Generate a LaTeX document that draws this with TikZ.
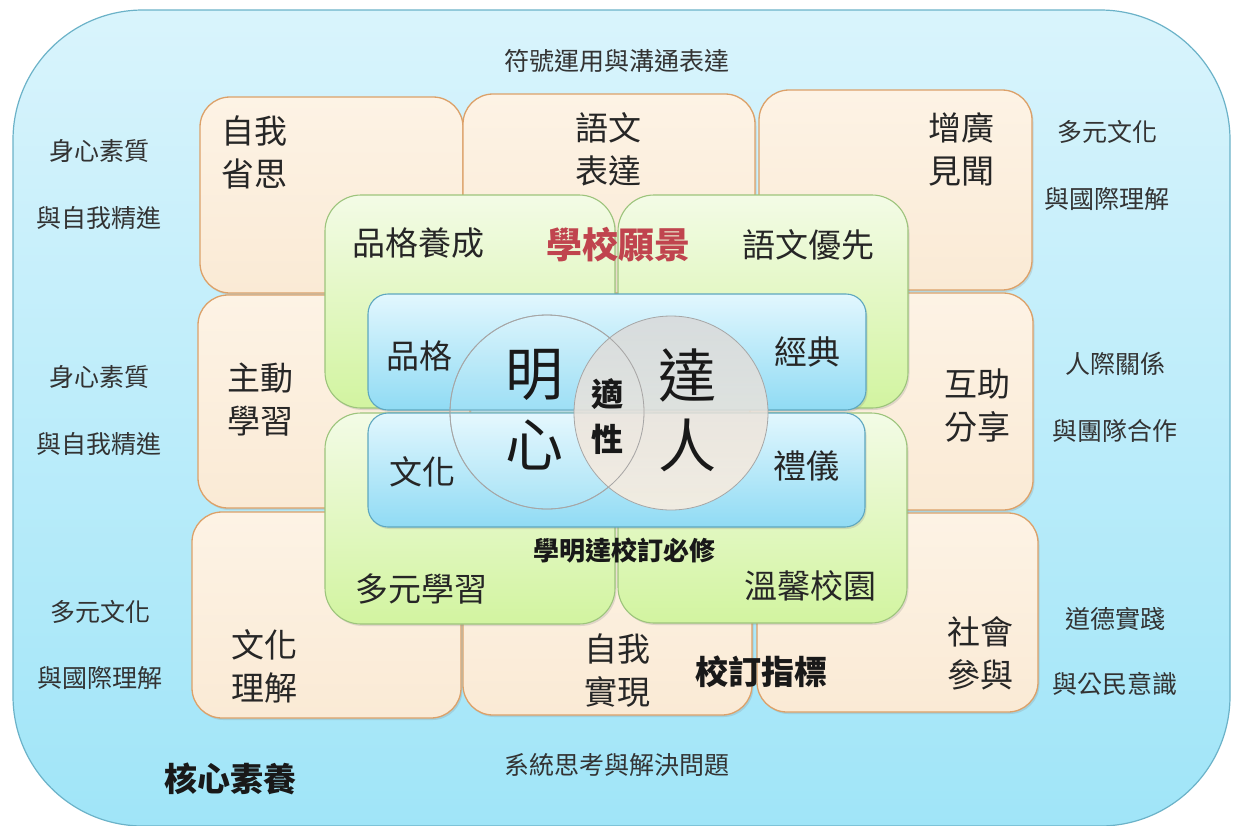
\documentclass[tikz,border=0pt]{standalone}
\usepackage{fontspec}
\setmainfont{Noto Sans CJK TC}
\usetikzlibrary{shadows}

\definecolor{skytop}{HTML}{D9F4FC}
\definecolor{skybot}{HTML}{A0E5F8}
\definecolor{skyline}{HTML}{6BB2C8}
\definecolor{tantop}{HTML}{FDF3E5}
\definecolor{tanbot}{HTML}{FAEAD5}
\definecolor{tanline}{HTML}{DCA169}
\definecolor{leaftop}{HTML}{F3FBE6}
\definecolor{leafbot}{HTML}{D2F4A0}
\definecolor{leafline}{HTML}{9DC47C}
\definecolor{poolTop}{HTML}{E2F7FE}
\definecolor{poolBot}{HTML}{90DBF4}
\definecolor{poolline}{HTML}{5EA7BF}
\definecolor{visionred}{HTML}{C0444E}

\begin{document}
\begin{tikzpicture}[x=1pt,y=-1pt,
  softshadow/.style={drop shadow={opacity=.22,shadow xshift=1.5pt,shadow yshift=-2pt}},
  outerbox/.style={draw=skyline,line width=1.2pt,rounded corners=130pt,top color=skytop,bottom color=skybot},
  tanbox/.style={draw=tanline,line width=1.3pt,rounded corners=30pt,top color=tantop,bottom color=tanbot,softshadow},
  leafbox/.style={draw=leafline,line width=1.1pt,rounded corners=36pt,top color=leaftop,bottom color=leafbot,softshadow},
  poolbox/.style={draw=poolline,line width=1.1pt,rounded corners=20pt,top color=poolTop,bottom color=poolBot,softshadow},
  venn/.style={draw=gray!70,line width=.8pt},
  lbl/.style={inner sep=0pt,text=black!80,font=\fontsize{25}{30}\selectfont},
  pair/.style={inner sep=0pt,align=left,text=black!85,font=\fontsize{33}{43}\selectfont},
  word/.style={inner sep=0pt,text=black!85,font=\fontsize{33}{40}\selectfont},
  big/.style={inner sep=0pt,text=black!90,font=\fontsize{58}{60}\selectfont},
  strong/.style={inner sep=0pt,text=black!90,font=\bfseries\fontsize{33}{40}\selectfont}]
\useasboundingbox (0,0) rectangle (1233,825);

% outer frame
\draw[outerbox] (13,10) rectangle (1230,826);

% tan grid
\foreach \xa/\ya/\xb/\yb in {200/97/463/293, 463/94/755/293, 759/90/1032/290,
  198/295/470/508, 750/293/1033/510,
  192/512/461/718, 463/510/752/715, 757/513/1038/712}
  \draw[tanbox] (\xa,\ya) rectangle (\xb,\yb);

% green quarters
\foreach \xa/\ya/\xb/\yb in {325/195/615/408, 618/195/908/408, 325/413/615/624, 618/413/907/623}
  \draw[leafbox] (\xa,\ya) rectangle (\xb,\yb);

% blue bands
\draw[poolbox] (368,294) rectangle (866,410);
\draw[poolbox] (368,413) rectangle (865,527);

% venn circles
\draw[venn,fill=white,fill opacity=.12] (547,412) circle[radius=97pt];
\path[top color=black!15!white,bottom color=orange!13!white,opacity=.85] (671,413) circle[radius=97pt];
\draw[venn] (671,413) circle[radius=97pt];
\draw[venn] (547,412) circle[radius=97pt];

% outer labels
\node[lbl] (sym) at (617,61) {符號運用與溝通表達};
\node[lbl] (sys) at (617,765) {系統思考與解決問題};
\node[lbl] (L1) at (99,151) {身心素質};
\node[lbl] (L2) at (99,218) {與自我精進};
\node[lbl] (L3) at (99,377) {身心素質};
\node[lbl] (L4) at (99,444) {與自我精進};
\node[lbl] (L5) at (100,612) {多元文化};
\node[lbl] (L6) at (100,678) {與國際理解};
\node[lbl] (R1) at (1107,132) {多元文化};
\node[lbl] (R2) at (1107,199) {與國際理解};
\node[lbl] (R3) at (1115,364) {人際關係};
\node[lbl] (R4) at (1115,431) {與團隊合作};
\node[lbl] (R5) at (1115,619) {道德實踐};
\node[lbl] (R6) at (1115,684) {與公民意識};

% tan texts
\node[pair] (zwss) at (254,152) {自我\\省思};
\node[pair] (ywbd) at (608,149) {語文\\表達};
\node[pair] (zgjw) at (961,149) {增廣\\見聞};
\node[pair] (zdxx) at (260,400) {主動\\學習};
\node[pair] (hzfx) at (977,406) {互助\\分享};
\node[pair] (whlj) at (264,666) {文化\\理解};
\node[pair] (zwsx) at (617,671) {自我\\實現};
\node[pair] (shcy) at (980,653) {社會\\參與};

% green texts
\node[word] (pgyc) at (418,243) {品格養成};
\node[word] (ywyx) at (808,245) {語文優先};
\node[word] (dyxx) at (421,589) {多元學習};
\node[word] (wxxy) at (810,586) {溫馨校園};

% blue texts
\node[word] (pg) at (419,356) {品格};
\node[word] (jd) at (807,352) {經典};
\node[word] (wh) at (422,472) {文化};
\node[word] (ly) at (806,466) {禮儀};

% circle texts
\node[big] (ming) at (534,375) {明};
\node[big] (xin) at (534,445) {心};
\node[big] (da) at (687,375) {達};
\node[big] (ren) at (687,445) {人};
\node[strong,font=\bfseries\fontsize{32}{36}\selectfont] (shi) at (607,394) {適};
\node[strong,font=\bfseries\fontsize{32}{36}\selectfont] (xing) at (607,439) {性};

% headings
\node[strong,text=visionred,font=\bfseries\fontsize{36}{40}\selectfont] (vision) at (618,245) {學校願景};
\node[strong,font=\bfseries\fontsize{26}{30}\selectfont] (must) at (624,551) {學明達校訂必修};
\node[strong] (index) at (761,672) {校訂指標};
\node[strong] (core) at (230,779) {核心素養};

\end{tikzpicture}
\end{document}
